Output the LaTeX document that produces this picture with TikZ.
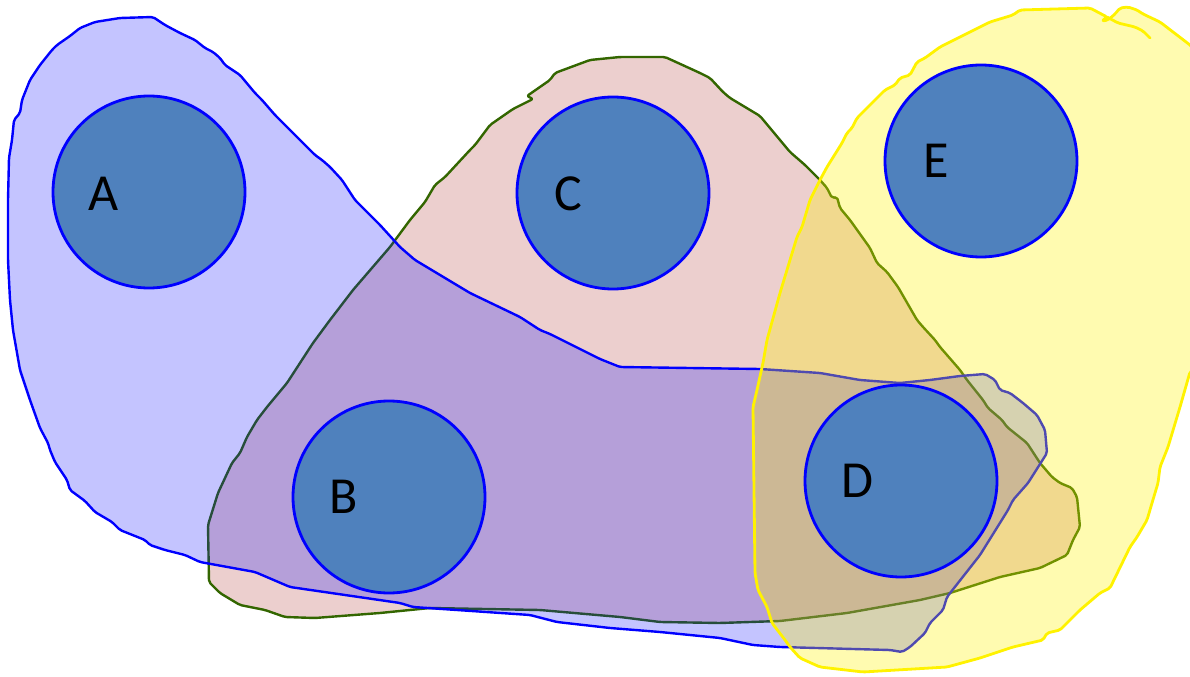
\documentclass[tikz,border=0pt]{standalone}
\usepackage{fontspec}
\setmainfont{Carlito}
\definecolor{pinkfill}{RGB}{179,63,59}
\definecolor{greenline}{RGB}{51,102,0}
\definecolor{circfill}{RGB}{79,129,189}
\tikzset{
  greenreg/.style={draw=greenline, line width=2.4bp, fill=pinkfill, fill opacity=0.25, rounded corners=2bp, line join=round},
  bluereg/.style={draw=blue, line width=2.4bp, fill=blue, fill opacity=0.23, rounded corners=2bp, line join=round},
  yellowreg/.style={draw=yellow, line width=2.8bp, fill=yellow, fill opacity=0.31, rounded corners=2bp, line join=round},
  setcirc/.style={circle, draw=blue, line width=2.8bp, fill=circfill, minimum size=192bp, inner sep=0pt},
  lbl/.style={inner sep=0pt, font=\fontsize{52bp}{52bp}\selectfont, text=black}
}
\begin{document}
\begin{tikzpicture}[x=1bp,y=-1bp]
\useasboundingbox (0,0) rectangle (1190,677);
% green (pink) region
\draw[greenreg] (665,57) -- (700,73) -- (710,78) -- (723,92) -- (730,98) -- (760,116) -- (770,128) -- (780,140) -- (790,152) -- (805,165) -- (820,180) -- (827,188) -- (832,198) -- (837,197) -- (840,208) -- (850,220) -- (870,248) -- (877,263) -- (887,272) -- (898,287) -- (917,320) -- (923,327) -- (935,340) -- (940,347) -- (960,370) -- (967,380) -- (983,400) -- (988,408) -- (1002,420) -- (1007,427) -- (1027,443) -- (1040,463) -- (1052,477) -- (1060,483) -- (1072,488) -- (1077,497) -- (1080,527) -- (1073,540) -- (1067,555) -- (1040,568) -- (1000,577) -- (950,593) -- (920,600) -- (847,613) -- (780,621) -- (720,623) -- (660,622) -- (620,617) -- (540,610) -- (430,608) -- (380,613) -- (315,618) -- (285,617) -- (265,610) -- (240,605) -- (220,593) -- (209,582) -- (208,525) -- (218,493) -- (232,463) -- (240,453) -- (247,437) -- (257,420) -- (267,407) -- (287,383) -- (313,343) -- (330,320) -- (353,290) -- (390,247) -- (410,220) -- (425,202) -- (435,185) -- (445,177) -- (470,150) -- (475,145) -- (490,125) -- (513,109) -- (533,99) -- (527,96) -- (550,80) -- (555,73) -- (590,60) -- (620,57) -- cycle;
% blue region
\draw[bluereg] (153,17) -- (165,25) -- (180,33) -- (195,40) -- (205,48) -- (213,52) -- (220,58) -- (225,65) -- (240,75) -- (255,93) -- (262,100) -- (275,115) -- (300,140) -- (315,155) -- (322,160) -- (330,167) -- (342,180) -- (355,200) -- (380,225) -- (400,247) -- (415,260) -- (445,278) -- (470,293) -- (520,317) -- (540,330) -- (550,334) -- (600,359) -- (620,367) -- (760,369) -- (820,373) -- (860,380) -- (900,383) -- (930,380) -- (960,376) -- (985,374) -- (995,380) -- (1000,390) -- (1010,393) -- (1023,403) -- (1037,415) -- (1045,430) -- (1047,453) -- (1028,483) -- (1013,500) -- (1008,510) -- (980,555) -- (947,597) -- (943,610) -- (930,623) -- (925,633) -- (910,647) -- (902,652) -- (890,650) -- (780,647) -- (753,645) -- (720,638) -- (660,632) -- (610,628) -- (557,622) -- (530,615) -- (413,607) -- (400,603) -- (290,587) -- (255,572) -- (200,562) -- (185,555) -- (165,550) -- (150,545) -- (145,540) -- (120,530) -- (112,522) -- (95,512) -- (85,501) -- (70,490) -- (67,480) -- (55,462) -- (50,450) -- (48,443) -- (40,428) -- (30,400) -- (20,370) -- (13,330) -- (10,300) -- (8,260) -- (8,200) -- (9,158) -- (12,140) -- (14,120) -- (20,113) -- (22,100) -- (30,80) -- (40,65) -- (52,50) -- (57,45) -- (70,36) -- (80,28) -- (95,22) -- (120,18) -- cycle;
% yellow region
\draw[yellowreg] (1090,8) -- (1107,17) -- (1102,21) -- (1108,20) -- (1115,14) -- (1120,8) -- (1128,7) -- (1137,10) -- (1143,14) -- (1160,22) -- (1190,45) -- (1205,60) -- (1205,360) -- (1190,372) -- (1180,407) -- (1168,447) -- (1160,467) -- (1158,483) -- (1152,503) -- (1147,520) -- (1137,537) -- (1130,547) -- (1110,588) -- (1100,593) -- (1080,610) -- (1060,630) -- (1047,633) -- (1043,640) -- (1013,647) -- (980,658) -- (947,667) -- (863,672) -- (820,667) -- (800,658) -- (790,647) -- (785,640) -- (772,623) -- (767,607) -- (758,590) -- (755,573) -- (753,407) -- (757,390) -- (763,363) -- (767,340) -- (780,293) -- (790,260) -- (797,237) -- (802,227) -- (810,200) -- (820,180) -- (827,167) -- (842,143) -- (847,133) -- (852,128) -- (857,118) -- (885,90) -- (895,85) -- (900,78) -- (910,75) -- (917,62) -- (925,58) -- (940,47) -- (950,42) -- (970,32) -- (990,22) -- (1013,15) -- (1020,10) -- cycle;
\draw[yellow, line width=2.8bp, line cap=round, rounded corners=2bp] (1107,17) -- (1118,23) -- (1135,27) -- (1143,31) -- (1150,38);
% circles
\node[setcirc] (A) at (149,192) {};
\node[setcirc] (C) at (613,193) {};
\node[setcirc] (E) at (981,161) {};
\node[setcirc] (B) at (389,497) {};
\node[setcirc] (D) at (901,481) {};
\node[lbl] (tA) at (104,194) {A};
\node[lbl] (tB) at (344,497) {B};
\node[lbl] (tC) at (568,194) {C};
\node[lbl] (tD) at (857,481) {D};
\node[lbl] (tE) at (936,161) {E};
\end{tikzpicture}
\end{document}
